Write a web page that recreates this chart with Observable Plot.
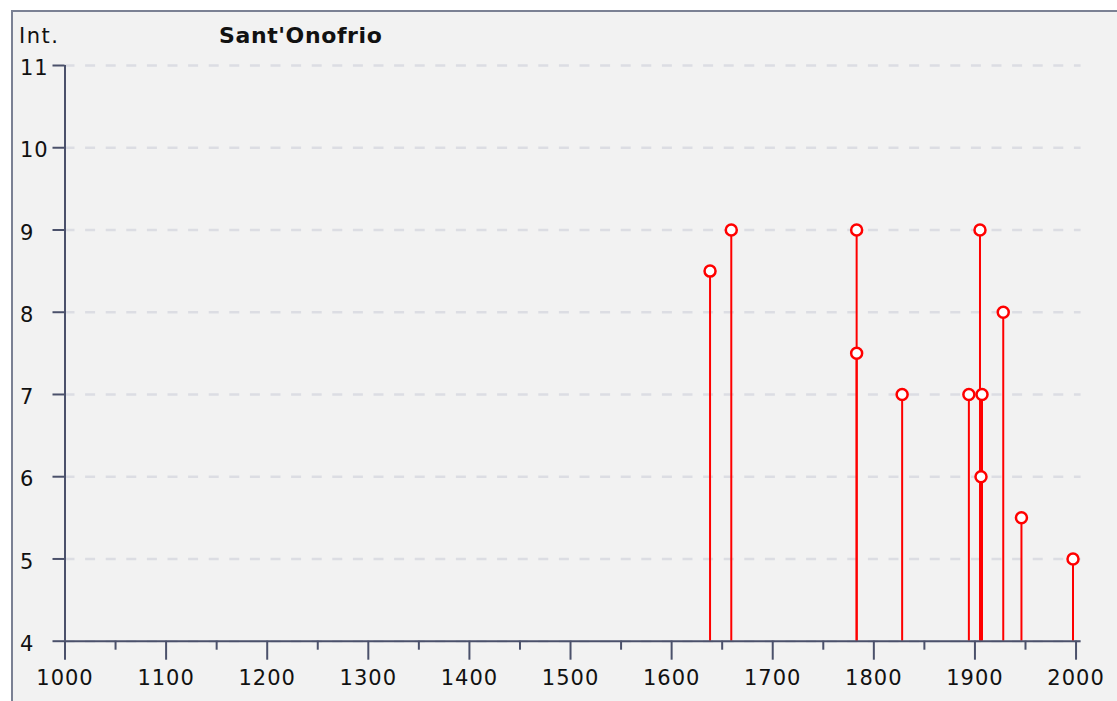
<!DOCTYPE html>
<html><head><meta charset="utf-8">
<script src="https://cdn.jsdelivr.net/npm/d3@7"></script>
<script src="https://cdn.jsdelivr.net/npm/@observablehq/plot@0.6"></script>
<style>
body{margin:0;background:#fff;width:1117px;height:701px;overflow:hidden;position:relative;font-family:"DejaVu Sans",Verdana,sans-serif;}
#frame{position:absolute;left:11px;top:10px;width:1200px;height:800px;border-left:2px solid #7b8194;border-top:2px solid #7b8194;background:#f2f2f2;}
.lbl{position:absolute;top:26px;font-size:21px;line-height:21px;color:#111;white-space:nowrap;}
#ylab{left:19px;letter-spacing:1.5px;}
#title{left:219px;top:25px;font-weight:bold;font-size:22px;line-height:22px;letter-spacing:0.6px;}
#chart{position:absolute;left:0;top:0;}
#chart svg text{letter-spacing:1px;}
</style></head>
<body>
<div id="frame"></div>
<div id="ylab" class="lbl">Int.</div>
<div id="title" class="lbl">Sant'Onofrio</div>
<div id="chart"></div>
<script>
const years = [1638, 1659, 1783, 1783, 1828, 1894, 1905, 1907, 1906, 1928, 1946, 1997];
const intensities = [8.5, 9, 9, 7.5, 7, 7, 9, 7, 6, 8, 5.5, 5];
const yTicks = [4, 5, 6, 7, 8, 9, 10, 11];
const xMajorTicks = [1000, 1100, 1200, 1300, 1400, 1500, 1600, 1700, 1800, 1900, 2000];
const xMinorTicks = [1050, 1150, 1250, 1350, 1450, 1550, 1650, 1750, 1850, 1950];

const data = years.map((year, i) => ({year, intensity: intensities[i]}));
const axisColor = "#4b516b";
const red = "#ff0000";

const chart = Plot.plot({
  width: 1117,
  height: 701,
  marginLeft: 64.5,
  marginRight: 36.4,
  marginTop: 65,
  marginBottom: 60.3,
  style: {background: "transparent", fontFamily: "'DejaVu Sans', Verdana, sans-serif", fontSize: "21px", color: "#111"},
  x: {domain: [1000, 2005]},
  y: {domain: [4, 11]},
  marks: [
    Plot.gridY(yTicks, {stroke: "#dcdde3", strokeOpacity: 1, strokeWidth: 2.5, strokeDasharray: "10,10.6"}),
    Plot.ruleX(data, {x: "year", y1: 4, y2: "intensity", stroke: red, strokeWidth: 2}),
    Plot.axisX(xMajorTicks, {tickSize: 19, tickPadding: 10, tickFormat: d => String(d), stroke: axisColor, strokeWidth: 2, strokeOpacity: 1, label: null, fill: "#111"}),
    Plot.axisX(xMinorTicks, {tickSize: 9, tickFormat: () => "", stroke: axisColor, strokeWidth: 2, strokeOpacity: 1, label: null}),
    Plot.axisY(yTicks, {tickSize: 12, tickFormat: () => "", stroke: axisColor, strokeWidth: 2, strokeOpacity: 1, label: null}),
    Plot.axisY(yTicks, {tickSize: 0, tickPadding: 45, textAnchor: "start", dy: 3, tickFormat: d => String(d), label: null, fill: "#111"}),
    Plot.ruleY([4], {stroke: axisColor, strokeWidth: 2}),
    Plot.ruleX([1000], {y1: 4, y2: 11, stroke: axisColor, strokeWidth: 2}),
    Plot.dot(data, {x: "year", y: "intensity", r: 5.5, fill: "#fff", stroke: red, strokeWidth: 2.5})
  ]
});
document.getElementById("chart").appendChild(chart);
</script>
</body></html>
